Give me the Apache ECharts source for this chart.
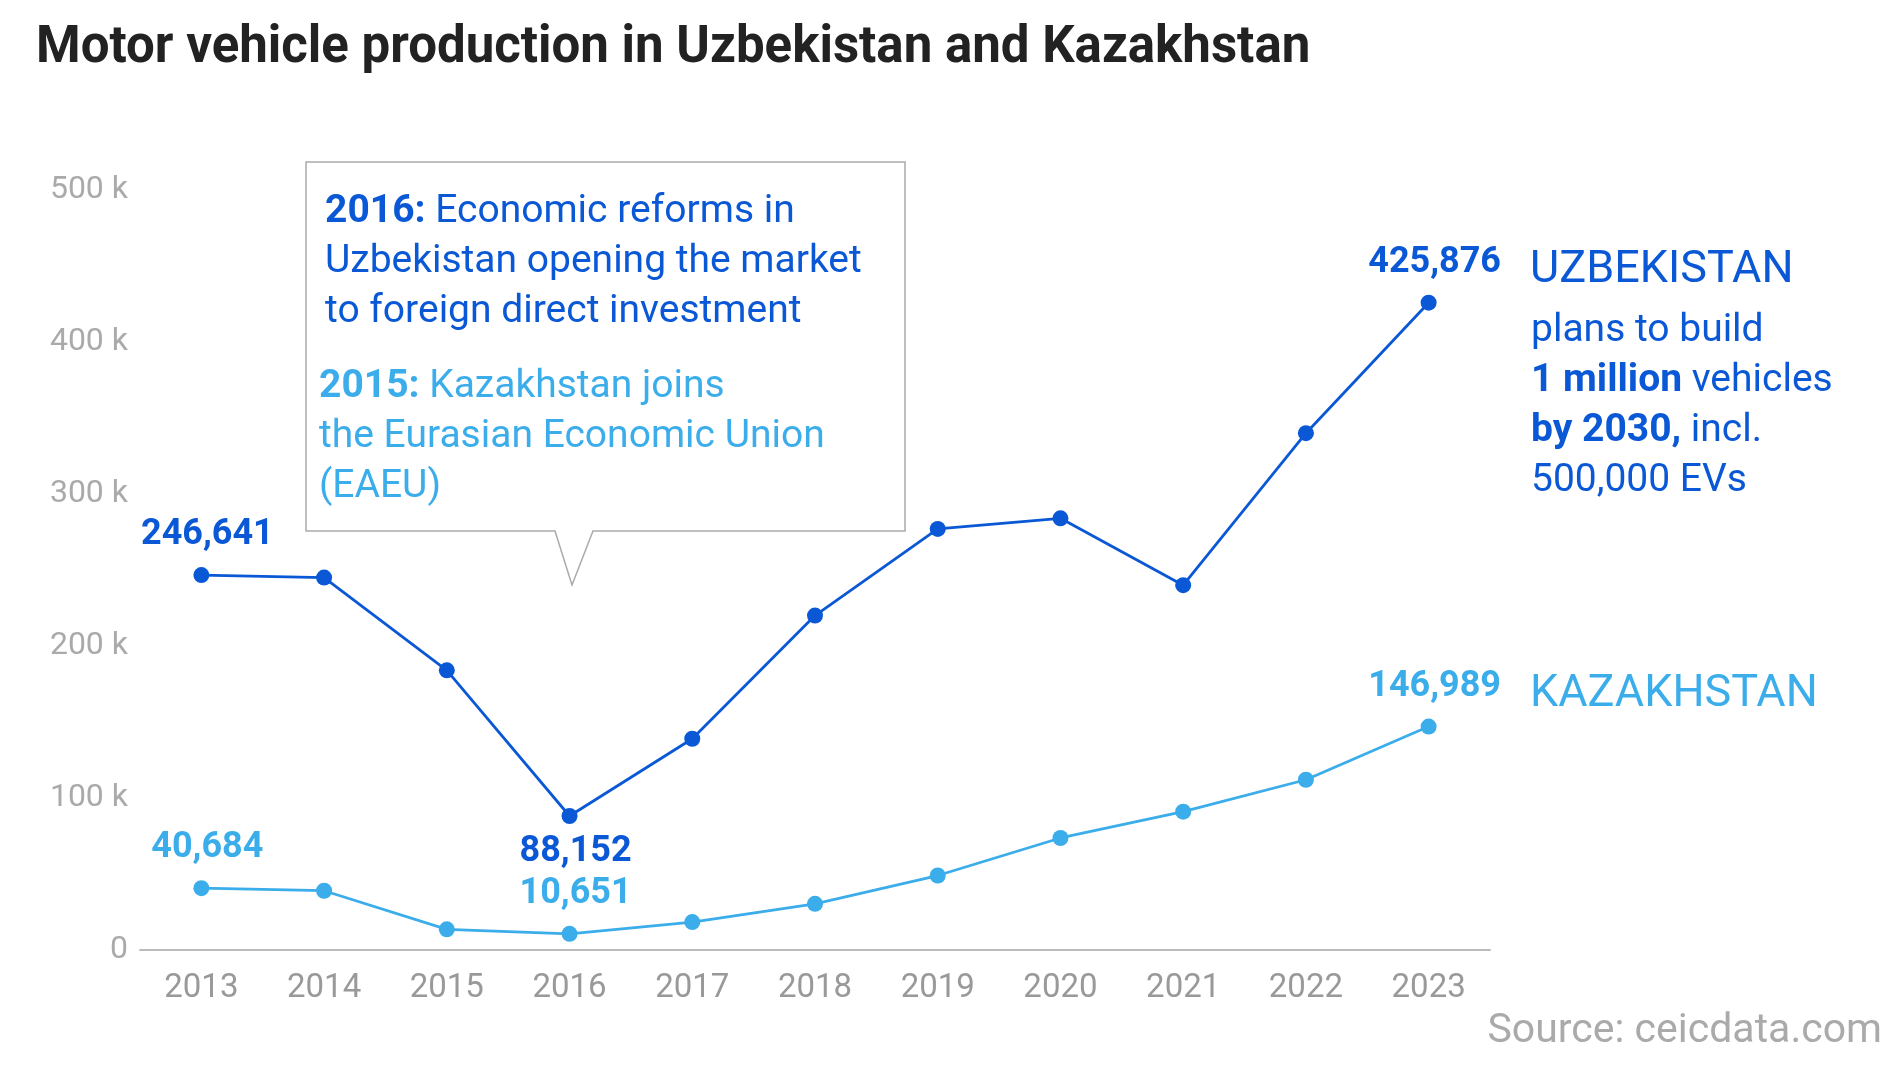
<!DOCTYPE html>
<html><head><meta charset="utf-8">
<script src="https://cdn.jsdelivr.net/npm/echarts@6/dist/echarts.min.js"></script>
<style>html,body{margin:0;padding:0;background:#fff}#c{width:1900px;height:1069px}</style>
</head><body><div id="c"></div>
<script>
const years = ['2013','2014','2015','2016','2017','2018','2019','2020','2021','2022','2023'];
const uzbekistan = [246641,245000,184000,88152,139000,220000,277000,284000,240000,340000,425876];
const kazakhstan = [40684,39000,13600,10651,18400,30400,49000,73700,91000,112000,146989];
const uzLabelIdx = {0:'top',3:'bottom',10:'top'};
const kzLabelIdx = {0:'top',3:'top',10:'top'};
const DARK='#0a58d6', LIGHT='#3badea';
const F='Roboto, "Noto Sans", sans-serif';
function mk(vals, idx, color){
  return vals.map((v,i)=> idx[i] ? {value:v,label:{show:true,position:idx[i],distance:idx[i]==='top'?14:10,offset:[6,0],
    formatter:(p)=>p.value.toLocaleString('en-US'),color:color,fontSize:36,fontWeight:'bold',fontFamily:F}} : v);
}
const chart = echarts.init(document.getElementById('c'));
chart.setOption({
  animation:false,
  grid:{left:140,right:410,top:190,bottom:119},
  xAxis:{type:'category',data:years,boundaryGap:true,
    axisLine:{lineStyle:{color:'#bbb',width:2}},axisTick:{show:false},
    axisLabel:{color:'#999',fontSize:33,fontFamily:F,margin:22}},
  yAxis:{type:'value',min:0,max:500000,interval:100000,splitLine:{show:false},
    axisLabel:{color:'#aaa',fontSize:32,fontFamily:F,margin:12,formatter:v=>v===0?'0':(v/1000)+' k'}},
  series:[
    {type:'line',data:mk(uzbekistan,uzLabelIdx,DARK),color:DARK,symbol:'circle',symbolSize:16,lineStyle:{width:2.8,color:DARK},itemStyle:{color:DARK}},
    {type:'line',data:mk(kazakhstan,kzLabelIdx,LIGHT),color:LIGHT,symbol:'circle',symbolSize:16,lineStyle:{width:2.8,color:LIGHT},itemStyle:{color:LIGHT}}
  ],
  graphic:[
    {type:'text',left:36,top:24,style:{text:'Motor vehicle production in Uzbekistan and Kazakhstan',fill:'#222',font:'bold 51px '+F}},
    {type:'polygon',shape:{points:[[306,162],[905,162],[905,531],[593,531],[572,585],[555,531],[306,531]]},
      style:{fill:'#fff',stroke:'#aaa',lineWidth:1.5}},
    {type:'text',left:325,top:187,style:{rich:{b:{font:'bold 39px '+F,fill:DARK},n:{font:'39px '+F,fill:DARK}},
      text:'{b|2016: }{n|Economic reforms in}\n{n|Uzbekistan opening the market}\n{n|to foreign direct investment}',lineHeight:50}},
    {type:'text',left:319,top:362,style:{rich:{b:{font:'bold 39px '+F,fill:LIGHT},n:{font:'39px '+F,fill:LIGHT}},
      text:'{b|2015: }{n|Kazakhstan joins}\n{n|the Eurasian Economic Union}\n{n|(EAEU)}',lineHeight:50}},
    {type:'text',left:1530,top:248,style:{text:'UZBEKISTAN',fill:DARK,font:'45px '+F}},
    {type:'text',left:1531,top:306,style:{rich:{b:{font:'bold 39px '+F,fill:DARK},n:{font:'39px '+F,fill:DARK}},
      text:'{n|plans to build}\n{b|1 million }{n|vehicles}\n{b|by 2030, }{n|incl.}\n{n|500,000 EVs}',lineHeight:50}},
    {type:'text',left:1530,top:672,style:{text:'KAZAKHSTAN',fill:LIGHT,font:'45px '+F}},
    {type:'text',right:18,top:1011,style:{text:'Source: ceicdata.com',fill:'#aaa',font:'41px '+F,align:'right'}}
  ]
});
</script></body></html>
